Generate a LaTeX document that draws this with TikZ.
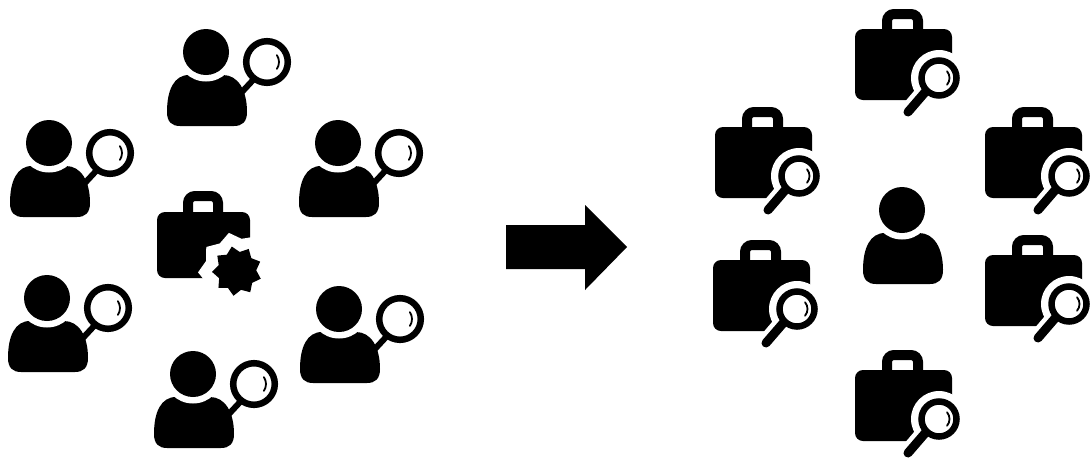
\documentclass[tikz,border=0pt]{standalone}
\usepackage{tikz}
\usetikzlibrary{shapes.geometric}
\tikzset{
    headdot/.style={fill=black},
    gapdot/.style={fill=white},
    handbar/.style={draw=black, line width=6pt},
    lensring/.style={draw=black, fill=white, line width=6.5pt},
    glint/.style={draw=black, line width=1.8pt, line cap=round},
    badge/.style={star, star points=9, inner sep=0pt, outer sep=0pt, rotate=12},
    user/.pic={
        \fill[headdot] (-39,60) .. controls (-39,38) and (-32,23) .. (-17,23)
            -- (17,23) .. controls (32,23) and (41,38) .. (41,60)
            .. controls (41,70) and (36,74) .. (28,74)
            -- (-26,74) .. controls (-34,74) and (-39,70) .. (-39,60) -- cycle;
        \fill[gapdot] (0,0) circle (29.5);
        \fill[headdot] (0,0) circle (23);
    },
    searcher/.pic={
        \pic {user};
        \draw[handbar] (48,27) -- (35,41);
        \draw[lensring] (61,10) circle (20.8);
        \draw[glint] (61,10) ++(-35:12) arc (-35:35:12);
    },
    casebody/.pic={
        \draw[black, line width=10pt, rounded corners=7pt] (32,5) -- (32,-15) -- (63,-15) -- (63,5);
        \fill[black, rounded corners=8pt] (0,0) rectangle (97,71);
    },
    job/.pic={
        \pic {casebody};
        \draw[white, line width=18pt, line cap=round] (70,63) -- (53,83);
        \fill[white] (84,49) circle (28);
        \draw[black, line width=9pt, line cap=round] (72,61) -- (53,83);
        \draw[lensring] (84,49) circle (17.5);
        \draw[glint] (84,49) ++(-40:10.5) arc (-40:40:10.5);
    },
}
\begin{document}
\begin{tikzpicture}[x=1pt, y=-1pt]
    \useasboundingbox (0,0) rectangle (1091,459);

    \pic (searcherA) at (206,52) {searcher};
    \pic (searcherB) at (49,143) {searcher};
    \pic (searcherC) at (338,143) {searcher};
    \pic (searcherD) at (47,298) {searcher};
    \pic (searcherE) at (339,309) {searcher};
    \pic (searcherF) at (193,374) {searcher};

    \draw[black, line width=10pt, rounded corners=7pt] (188,216) -- (188,196) -- (218,196) -- (218,216);
    \fill[black, rounded corners=8pt] (157,212) rectangle (250,278);
    \node[badge, fill=white, minimum size=78pt, star point ratio=1.2] (badgegap) at (237,271) {};
    \node[badge, fill=black, minimum size=50pt, star point ratio=1.3] (badgestar) at (237,271) {};

    \fill (506,225) -- (585,225) -- (585,205) -- (627,247) -- (585,290) -- (585,269) -- (506,269) -- cycle;

    \pic (jobA) at (855,29) {job};
    \pic (jobB) at (715,127) {job};
    \pic (jobC) at (985,127) {job};
    \pic (jobD) at (713,260) {job};
    \pic (jobE) at (985,255) {job};
    \pic (jobF) at (855,370) {job};
    \pic (seeker) at (902,210) {user};
\end{tikzpicture}
\end{document}
